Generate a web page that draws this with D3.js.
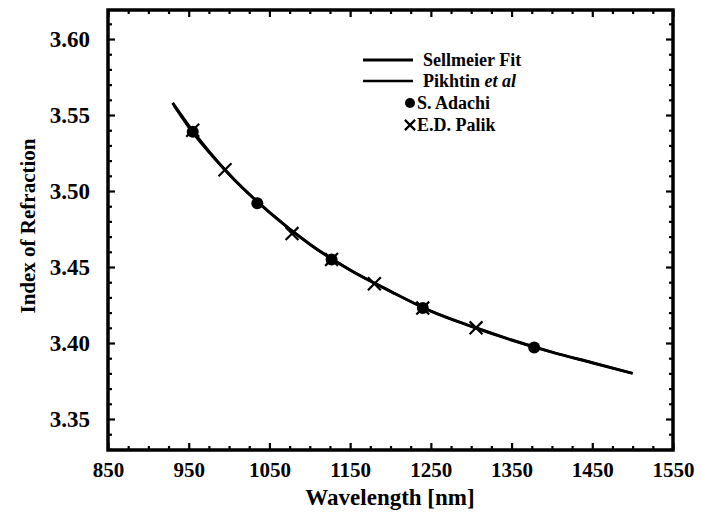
<!DOCTYPE html>
<html>
<head>
<title>Index of Refraction</title>
<script src="https://d3js.org/d3.v7.min.js"></script>
<style>
  body { margin: 0; background: #fff; }
</style>
</head>
<body>
<div id="chart"></div>
<script>
// values
var sellmeierWl = [930, 950, 1000, 1050, 1100, 1150, 1200, 1250, 1300, 1350, 1400, 1450, 1500];
var sellmeierN  = [3.558, 3.543, 3.511, 3.486, 3.465, 3.448, 3.434, 3.421, 3.411, 3.402, 3.394, 3.387, 3.380];
var pikhtinWl = [932, 950, 1000, 1050, 1100, 1150, 1200, 1250, 1300, 1350, 1400, 1450, 1500];
var pikhtinN  = [3.556, 3.542, 3.511, 3.486, 3.465, 3.448, 3.434, 3.421, 3.411, 3.402, 3.394, 3.387, 3.380];
var adachiWl = [955, 1035, 1127, 1240, 1378];
var adachiN  = [3.539, 3.492, 3.455, 3.423, 3.397];
var palikWl = [955, 995, 1078, 1127, 1180, 1240, 1306];
var palikN  = [3.540, 3.514, 3.472, 3.455, 3.439, 3.423, 3.410];
var xTicks = [850, 950, 1050, 1150, 1250, 1350, 1450, 1550];
var yTicks = [3.35, 3.40, 3.45, 3.50, 3.55, 3.60];
var legendLabels = ["Sellmeier Fit", "Pikhtin", "S. Adachi", "E.D. Palik"];

var serif = "'Liberation Serif', 'DejaVu Serif', serif";

var margin = { top: 10, right: 29, bottom: 71, left: 108 },
    width = 702 - margin.left - margin.right,
    height = 521 - margin.top - margin.bottom;

var svg = d3.select("#chart").append("svg")
    .attr("width", 702).attr("height", 521)
    .style("font-family", serif).style("font-weight", "bold")
  .append("g")
    .attr("transform", "translate(" + margin.left + "," + margin.top + ")");

var x = d3.scaleLinear().domain([850, 1550]).range([0, width]);
var y = d3.scaleLinear().domain([3.3296, 3.6191]).range([height, 0]);

var xMinor = d3.range(850, 1551, 25).filter(function (v) { return v % 100 != 50; });
var yMinor = d3.range(333, 362, 1).map(function (v) { return v / 100; })
    .filter(function (v) { return Math.round(v * 100) % 5 != 0; });

function styleAxis(size) {
  return function (g) {
    g.attr("font-family", null).attr("font-size", null);
    g.select(".domain").remove();
    g.selectAll(".tick line").attr("stroke", "#000").attr("stroke-width", 2.2);
    g.selectAll("text")
      .style("font-family", serif).style("font-weight", "bold")
      .style("font-size", size + "px").attr("fill", "#000");
  };
}

// bottom
svg.append("g").attr("transform", "translate(0," + height + ")")
  .call(d3.axisBottom(x).tickValues(xTicks).tickSize(-7).tickPadding(12).tickFormat(d3.format("d")))
  .call(styleAxis(21));
svg.append("g").attr("transform", "translate(0," + height + ")")
  .call(d3.axisBottom(x).tickValues(xMinor).tickSize(-4).tickFormat(""))
  .call(styleAxis(21));
// top
svg.append("g")
  .call(d3.axisTop(x).tickValues(xTicks).tickSize(-7).tickFormat(""))
  .call(styleAxis(21));
svg.append("g")
  .call(d3.axisTop(x).tickValues(xMinor).tickSize(-4).tickFormat(""))
  .call(styleAxis(21));
// left
svg.append("g")
  .call(d3.axisLeft(y).tickValues(yTicks).tickSize(-7).tickPadding(18).tickFormat(d3.format(".2f")))
  .call(styleAxis(23));
svg.append("g")
  .call(d3.axisLeft(y).tickValues(yMinor).tickSize(-4).tickFormat(""))
  .call(styleAxis(23));
// right
svg.append("g").attr("transform", "translate(" + width + ",0)")
  .call(d3.axisRight(y).tickValues(yTicks).tickSize(-7).tickFormat(""))
  .call(styleAxis(23));
svg.append("g").attr("transform", "translate(" + width + ",0)")
  .call(d3.axisRight(y).tickValues(yMinor).tickSize(-4).tickFormat(""))
  .call(styleAxis(23));

// frame
svg.append("rect")
  .attr("width", width).attr("height", height)
  .attr("fill", "none").attr("stroke", "#000").attr("stroke-width", 3.5);

// curves
var line = d3.line()
  .x(function (d) { return x(d[0]); })
  .y(function (d) { return y(d[1]); })
  .curve(d3.curveMonotoneX);

svg.append("path")
  .datum(d3.zip(sellmeierWl, sellmeierN))
  .attr("d", line).attr("fill", "none").attr("stroke", "#000").attr("stroke-width", 3);
svg.append("path")
  .datum(d3.zip(pikhtinWl, pikhtinN))
  .attr("d", line).attr("fill", "none").attr("stroke", "#000").attr("stroke-width", 2.5);

// S. Adachi dots
svg.selectAll(".adachi")
  .data(d3.zip(adachiWl, adachiN))
  .enter().append("circle")
  .attr("class", "adachi")
  .attr("cx", function (d) { return x(d[0]); })
  .attr("cy", function (d) { return y(d[1]); })
  .attr("r", 6).attr("fill", "#000");

// E.D. Palik crosses
var cross = d3.symbol().type(d3.symbolX).size(110);
svg.selectAll(".palik")
  .data(d3.zip(palikWl, palikN))
  .enter().append("path")
  .attr("class", "palik")
  .attr("transform", function (d) { return "translate(" + x(d[0]) + "," + y(d[1]) + ")"; })
  .attr("d", cross)
  .attr("fill", "none").attr("stroke", "#000").attr("stroke-width", 2.2);

// legend
var lg = svg.append("g").attr("transform", "translate(" + (363 - margin.left) + "," + (60 - margin.top) + ")");
var rowH = 21;
[0, 1].forEach(function (i) {
  lg.append("line")
    .attr("x1", 0).attr("x2", 50)
    .attr("y1", i * rowH).attr("y2", i * rowH)
    .attr("stroke", "#000").attr("stroke-width", i == 0 ? 3 : 2.5);
  var t = lg.append("text")
    .attr("x", 60).attr("y", i * rowH).attr("dy", "0.35em")
    .style("font-size", "18px")
    .text(legendLabels[i]);
  if (i == 1) t.append("tspan").style("font-style", "italic").text(" et al");
});
lg.append("circle").attr("cx", 47).attr("cy", 2 * rowH + 1).attr("r", 5).attr("fill", "#000");
lg.append("text").attr("x", 54).attr("y", 2 * rowH + 1).attr("dy", "0.35em")
  .style("font-size", "18px").text(legendLabels[2]);
lg.append("path")
  .attr("transform", "translate(47," + (3 * rowH + 2) + ")")
  .attr("d", d3.symbol().type(d3.symbolX).size(70))
  .attr("fill", "none").attr("stroke", "#000").attr("stroke-width", 2.2);
lg.append("text").attr("x", 54).attr("y", 3 * rowH + 2).attr("dy", "0.35em")
  .style("font-size", "18px").text(legendLabels[3]);

// axis titles
svg.append("text")
  .attr("x", 390 - margin.left).attr("y", 497 - margin.top)
  .attr("text-anchor", "middle").attr("dy", "0.35em")
  .style("font-size", "23px")
  .text("Wavelength [nm]");
svg.append("text")
  .attr("transform", "translate(" + (28 - margin.left) + "," + (226 - margin.top) + ") rotate(-90)")
  .attr("text-anchor", "middle").attr("dy", "0.35em")
  .style("font-size", "21px")
  .text("Index of Refraction");
</script>
</body>
</html>
